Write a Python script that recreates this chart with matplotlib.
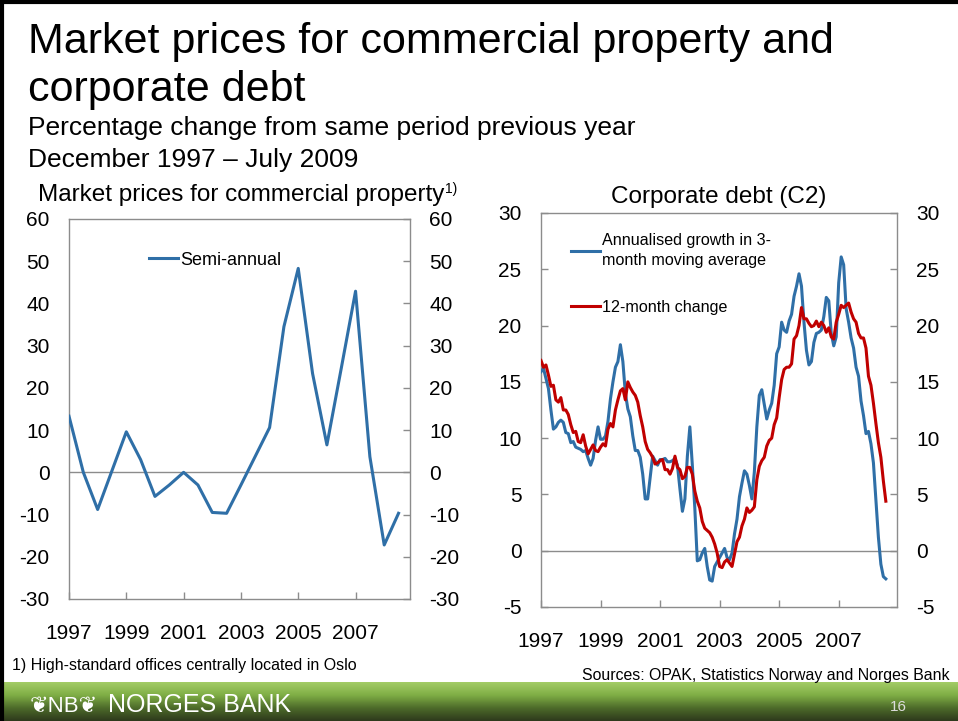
import numpy as np
import matplotlib
matplotlib.use("Agg")
import matplotlib.pyplot as plt
from matplotlib.lines import Line2D

plt.rcParams['font.family'] = ['Liberation Sans', 'DejaVu Sans']
plt.rcParams['axes.unicode_minus'] = False

# ---- data ----
years = ['1997', '1999', '2001', '2003', '2005', '2007']

# semi-annual change, market prices for commercial property (Dec 1997 - ...)
semi_annual = [13.3, 0.0, -8.8, 0.4, 9.6, 3.0, -5.7, -3.0, 0.0, -3.0, -9.5, -9.7,
               -3.0, 3.8, 10.6, 34.5, 48.3, 23.4, 6.5, 24.6, 42.9, 3.7, -17.2, -9.7]

# corporate debt C2, monthly Dec 1997 - Jul 2009
growth_3m = [15.9, 16.2, 15.3, 14.4, 12.5, 10.8, 11.0, 11.4, 11.6, 11.4,
             10.5, 10.4, 9.6, 9.7, 9.2, 9.1, 9.0, 8.8, 8.9, 8.2,
             7.6, 8.2, 9.8, 11.0, 9.9, 9.9, 10.2, 11.5, 13.5, 15.0,
             16.3, 16.8, 18.3, 16.8, 14.0, 12.6, 11.9, 10.2, 8.9, 8.9,
             8.3, 6.8, 4.6, 4.6, 6.5, 8.4, 8.0, 7.6, 8.1, 8.1,
             8.2, 7.9, 7.9, 8.0, 8.2, 7.6, 5.5, 3.5, 4.6, 8.4,
             11.0, 7.6, 3.8, -0.9, -0.8, -0.2, 0.2, -1.4, -2.6, -2.7,
             -1.4, -1.0, -0.6, -0.2, 0.2, -0.6, -0.8, -0.2, 1.5, 2.8,
             4.8, 6.0, 7.1, 6.8, 5.8, 4.6, 7.0, 11.0, 13.8, 14.3,
             13.0, 11.7, 12.5, 13.1, 14.7, 17.5, 18.1, 20.3, 19.6, 19.4,
             20.4, 21.0, 22.6, 23.5, 24.6, 23.5, 20.3, 17.8, 16.5, 16.8,
             18.5, 19.3, 19.4, 19.6, 20.8, 22.5, 22.2, 19.3, 18.2, 19.0,
             23.8, 26.1, 25.4, 21.5, 20.3, 18.9, 18.0, 16.3, 15.5, 13.3,
             12.0, 10.4, 10.6, 9.5, 7.8, 4.5, 1.2, -1.2, -2.3, -2.5]

change_12m = [16.9, 16.3, 16.5, 15.6, 14.6, 14.7, 13.4, 13.2, 13.6, 12.5,
              12.5, 12.1, 11.2, 10.5, 10.6, 9.7, 9.6, 10.3, 9.3, 8.6,
              9.0, 9.4, 8.9, 8.8, 9.2, 9.5, 9.3, 10.8, 11.3, 11.0,
              12.5, 13.4, 14.2, 14.4, 13.4, 15.0, 14.5, 14.1, 13.8, 13.2,
              12.0, 11.0, 9.7, 9.0, 8.7, 8.3, 7.7, 7.8, 8.0, 8.1,
              7.2, 7.2, 6.8, 7.3, 8.4, 7.4, 7.2, 6.4, 6.6, 7.4,
              7.4, 6.8, 5.3, 4.4, 3.8, 2.6, 2.0, 1.8, 1.6, 1.2,
              0.6, -0.2, -1.4, -1.5, -1.0, -0.8, -1.1, -1.4, -0.3, 0.8,
              1.2, 2.2, 2.8, 3.8, 3.4, 3.6, 3.9, 6.3, 7.5, 8.0,
              8.3, 9.3, 9.8, 10.0, 11.2, 11.8, 13.6, 15.2, 16.1, 16.3,
              16.3, 16.6, 18.8, 19.1, 20.0, 21.6, 20.6, 20.6, 20.2, 19.9,
              20.0, 20.4, 19.9, 20.3, 20.0, 19.4, 19.8, 19.0, 18.8, 20.3,
              21.0, 21.8, 21.6, 21.8, 22.0, 21.2, 20.6, 20.3, 19.3, 18.9,
              18.9, 18.0, 15.5, 14.7, 13.1, 11.3, 9.6, 8.3, 6.2, 4.4]

BLUE = '#2f6fa7'
RED = '#c00000'
GREY = '#8c8c8c'

fig = plt.figure(figsize=(9.58, 7.21), dpi=100)
W, H = 958.0, 721.0


def style_axis(ax, left_ticks):
    for s in ax.spines.values():
        s.set_color(GREY)
        s.set_linewidth(1.0)
    ax.tick_params(axis='both', direction='in', length=5, color=GREY,
                   labelsize=15, labelcolor='black', width=1.0)
    ax.tick_params(axis='y', left=left_ticks, right=True, labelleft=True,
                   labelright=True, pad=14)
    ax.tick_params(axis='x', pad=18)
    ax.axhline(0, color=GREY, lw=1.0, zorder=1)


# ---- left panel: commercial property ----
ax1 = fig.add_axes([69 / W, 1 - 599 / H, 341 / W, 380 / H])
x1 = np.arange(len(semi_annual))
ax1.plot(x1, semi_annual, color=BLUE, lw=2.2, label='Semi-annual', zorder=3)
ax1.set_xlim(0, 23.8)
ax1.set_ylim(-30, 60)
ax1.set_yticks(np.arange(-30, 61, 10))
ax1.set_xticks(np.arange(0, 24, 4))
ax1.set_xticklabels(years)
style_axis(ax1, left_ticks=False)
ax1.legend(loc='center left', bbox_to_anchor=(0.235, 0.892), frameon=False,
           fontsize=13, handlelength=1.6, handletextpad=0.1, borderpad=0,
           borderaxespad=0)

# ---- right panel: corporate debt ----
ax2 = fig.add_axes([541 / W, 1 - 607 / H, 356 / W, 394 / H])
x2 = np.arange(len(growth_3m))
ax2.plot(x2, growth_3m, color=BLUE, lw=2.2, zorder=3,
         label='Annualised growth in 3-\nmonth moving average')
ax2.plot(x2, change_12m, color=RED, lw=2.2, zorder=4, label='12-month change')
ax2.set_xlim(0, 143.5)
ax2.set_ylim(-5, 30)
ax2.set_yticks(np.arange(-5, 31, 5))
ax2.set_xticks(np.arange(0, 140, 24))
ax2.set_xticklabels(years)
style_axis(ax2, left_ticks=True)
leg = ax2.legend(loc='upper left', bbox_to_anchor=(0.085, 0.948), frameon=False,
                 fontsize=11.6, handlelength=1.8, handletextpad=0.1, borderpad=0,
                 borderaxespad=0, labelspacing=2.0)
for txt in leg.get_texts():
    txt.set_linespacing(1.35)

# ---- titles ----
fig.text(28 / W, 1 - 53 / H, 'Market prices for commercial property and',
         fontsize=31, va='baseline')
fig.text(28 / W, 1 - 101 / H, 'corporate debt', fontsize=31, va='baseline')
fig.text(28 / W, 1 - 135 / H, 'Percentage change from same period previous year',
         fontsize=19, va='baseline')
fig.text(28 / W, 1 - 167 / H, 'December 1997 \u2013 July 2009',
         fontsize=19, va='baseline')

t = fig.text(38 / W, 1 - 201 / H, 'Market prices for commercial property',
             fontsize=17.5, va='baseline')
fig.canvas.draw()
bb = t.get_window_extent()
fig.text(bb.x1 / W + 1 / W, 1 - 193 / H, '1)', fontsize=10, va='baseline')
fig.text(719 / W, 1 - 203 / H, 'Corporate debt (C2)', fontsize=17.5,
         va='baseline', ha='center')

fig.text(12 / W, 1 - 670 / H, '1) High-standard offices centrally located in Oslo',
         fontsize=11.5, va='baseline')
fig.text(950 / W, 1 - 680 / H, 'Sources: OPAK, Statistics Norway and Norges Bank',
         fontsize=11.4, va='baseline', ha='right')

# ---- footer bar ----
fax = fig.add_axes([0, 0, 1, 39 / H])
grad = np.linspace(0, 1, 64).reshape(-1, 1)
cmap = matplotlib.colors.LinearSegmentedColormap.from_list(
    'nb', ['#2e3a1c', '#4d6b2a', '#7fae45', '#a3cc66'])
fax.imshow(grad, aspect='auto', cmap=cmap, origin='lower',
           extent=[0, 1, 0, 1])
fax.set_axis_off()
fig.text(30 / W, 1 - 712 / H, '\u2766NB\u2766', fontsize=16, color='white',
         va='baseline')
fig.text(108 / W, 1 - 712 / H, 'NORGES BANK', fontsize=18, color='white',
         va='baseline')
fig.text(898 / W, 1 - 711 / H, '16', fontsize=11, color='#dddddd',
         va='baseline', ha='center')

# frame
fig.add_artist(Line2D([1.5 / W, 1.5 / W], [0, 1], color='black', lw=3,
                      transform=fig.transFigure))
fig.add_artist(Line2D([0, 1], [1 - 1.5 / H, 1 - 1.5 / H], color='black', lw=3,
                      transform=fig.transFigure))

fig.savefig('out.png', dpi=100)
